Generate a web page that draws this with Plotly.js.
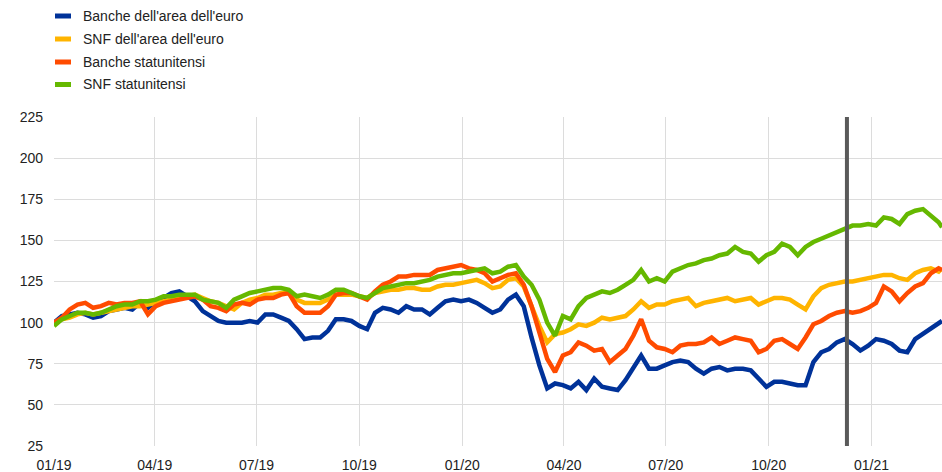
<!DOCTYPE html>
<html>
<head>
<meta charset="utf-8">
<script src="https://cdn.plot.ly/plotly-3.0.1.min.js"></script>
<style>html,body{margin:0;padding:0;background:#fff;}#chart{width:942px;height:472px;}</style>
</head>
<body>
<div id="chart"></div>
<script>
// Weekly observations starting 2019-01-01, last observation 2021-03-05
const startDate = '2019-01-01';
const lastDate = '2021-03-05';
const markerDate = '2020-12-10';

const seriesNames = ["Banche dell'area dell'euro", "SNF dell'area dell'euro", "Banche statunitensi", "SNF statunitensi"];
const seriesColors = ['#003299', '#FFB400', '#FF4B00', '#65B800'];

const bancheEuro = [100,104,105,106,105,103,104,107,108,109,108,112,109,113,115,118,119,116,113,107,
  104,101,100,100,100,101,100,105,105,103,101,96,90,91,91,95,102,102,101,98,
  96,106,109,108,106,110,108,108,105,109,113,114,113,114,112,109,106,108,114,117,
  110,91,74,60,63,62,60,64,59,66,61,60,59,65,72,80,72,72,74,76,
  77,76,72,69,72,73,71,72,72,71,66,61,64,64,63,62,62,76,82,84,
  88,90,87,83,86,90,89,87,83,82,90,93,96,99,101];

const snfEuro = [100,102,103,105,106,105,106,107,108,109,110,110,111,112,113,114,115,116,117,115,
  113,112,110,108,112,114,115,117,117,118,118,114,112,112,112,114,117,117,117,116,
  115,118,119,120,120,121,121,120,120,122,123,123,124,125,126,124,121,122,126,127,
  122,110,98,88,93,94,96,99,98,100,103,102,103,104,108,113,109,111,111,113,
  114,115,110,112,113,114,115,113,114,115,111,113,115,115,114,111,108,116,121,123,
  124,125,125,126,127,128,129,129,127,126,130,132,133,131,133];

const bancheUS = [100,103,108,111,112,109,110,112,111,112,112,113,105,110,112,113,114,115,116,114,
  110,109,107,111,112,111,114,115,115,117,118,110,106,106,106,110,117,118,118,116,
  114,119,123,125,128,128,129,129,129,132,133,134,135,133,132,130,125,127,129,130,
  123,110,93,78,70,80,82,88,86,83,84,76,80,84,92,102,89,85,84,82,
  86,87,87,88,91,87,89,91,90,89,82,84,89,90,87,84,91,99,101,104,
  106,107,106,107,109,112,122,119,113,118,122,124,130,133,132];

const snfUS = [98,102,104,106,106,105,106,108,110,111,111,113,113,114,116,116,117,117,117,114,
  113,112,109,114,116,118,119,120,121,121,120,116,117,116,115,117,120,120,118,116,
  115,118,121,122,123,124,124,125,126,128,129,130,130,131,132,133,130,131,134,135,
  128,123,114,100,92,104,102,110,115,117,119,118,120,123,126,132,125,127,125,131,
  133,135,136,138,139,141,142,146,143,142,137,141,143,148,146,141,146,149,151,153,
  155,157,159,159,160,159,164,163,160,166,168,169,165,161,158];

const tickVals = ['2019-01-01','2019-04-01','2019-07-01','2019-10-01','2020-01-01','2020-04-01','2020-07-01','2020-10-01','2021-01-01'];
const tickText = ['01/19','04/19','07/19','10/19','01/20','04/20','07/20','10/20','01/21'];
const yTicks = [25,50,75,100,125,150,175,200,225];

// build the date axis: weekly from start, final point at lastDate
const dates = [];
const d0 = new Date(startDate + 'T00:00:00Z');
for (let i = 0; i < bancheEuro.length - 1; i++) {
  const d = new Date(d0.getTime() + i * 7 * 86400000);
  dates.push(d.toISOString().slice(0, 10));
}
dates.push(lastDate);

const allSeries = [bancheEuro, snfEuro, bancheUS, snfUS];
const traces = allSeries.map((vals, k) => ({
  x: dates, y: vals, type: 'scatter', mode: 'lines', name: seriesNames[k],
  line: {color: seriesColors[k], width: 4.5}, showlegend: false, hoverinfo: 'skip'
}));

const FONT = 'Liberation Sans, Arial, Helvetica, sans-serif';
const L = 54, T = 117, W = 942, H = 472, B = 26;
const plotW = W - L, plotH = H - T - B;
const px2x = p => (p - L) / plotW;
const py2y = p => (H - B - p) / plotH;

const shapes = [{
  type: 'line', xref: 'x', yref: 'paper', x0: markerDate, x1: markerDate, y0: 0, y1: 1,
  line: {color: '#5a5a5a', width: 4}, layer: 'above'
}];
const annotations = [];
const rowY = [16, 39, 62, 84.5];
seriesNames.forEach((nm, k) => {
  shapes.push({type: 'rect', xref: 'paper', yref: 'paper',
    x0: px2x(55), x1: px2x(71), y0: py2y(rowY[k] + 2.5), y1: py2y(rowY[k] - 2.5),
    fillcolor: seriesColors[k], line: {width: 0}});
  annotations.push({xref: 'paper', yref: 'paper', x: px2x(81), y: py2y(rowY[k]),
    xanchor: 'left', yanchor: 'middle', text: nm, showarrow: false,
    font: {family: FONT, size: 14, color: '#222'}});
});

const layout = {
  width: W, height: H,
  margin: {l: L, r: 0, t: T, b: B, pad: 0},
  paper_bgcolor: '#fff', plot_bgcolor: '#fff',
  font: {family: FONT, size: 14, color: '#222'},
  showlegend: false,
  xaxis: {
    type: 'date', range: [startDate, lastDate],
    tickvals: tickVals, ticktext: tickText,
    showgrid: true, gridcolor: '#dcdcdc', gridwidth: 1,
    showline: false, zeroline: false, ticks: '', ticklabelstandoff: 9,
    tickfont: {family: FONT, size: 14, color: '#222'}
  },
  yaxis: {
    range: [25, 225], tickvals: yTicks, ticktext: yTicks.map(String),
    showgrid: true, gridcolor: '#dcdcdc', gridwidth: 1,
    showline: false, zeroline: false, ticks: '', ticklabelstandoff: 10,
    tickfont: {family: FONT, size: 14, color: '#222'}
  },
  shapes: shapes,
  annotations: annotations
};

Plotly.newPlot('chart', traces, layout, {displayModeBar: false, staticPlot: true});
</script>
</body>
</html>
